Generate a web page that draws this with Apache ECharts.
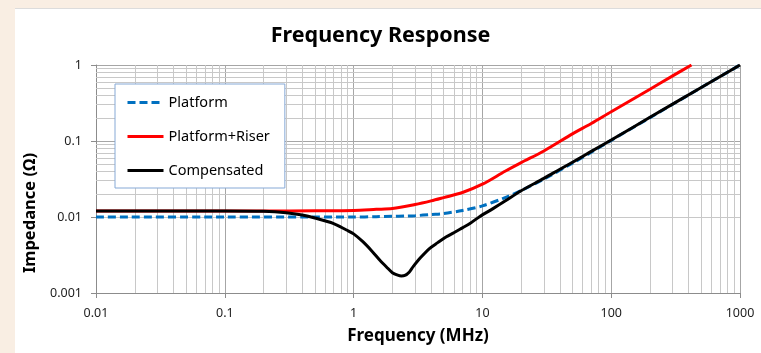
<!DOCTYPE html>
<html>
<head>
<meta charset="utf-8">
<script src="https://cdn.jsdelivr.net/npm/echarts@6/dist/echarts.min.js"></script>
<style>
  html, body { margin: 0; padding: 0; background: #f9eee3; }
  #panel { position: absolute; left: 15px; top: 8px; width: 746px; height: 345px; background: #ffffff; border-top: 1px solid #dcdcdc; }
  #chart { position: absolute; left: 0; top: 0; width: 761px; height: 353px; }
</style>
</head>
<body>
<div id="panel"></div>
<div id="chart"></div>
<script>
// ---- data ----
const titleText = 'Frequency Response';
const xAxisName = 'Frequency (MHz)';
const yAxisName = 'Impedance (\u03A9)';
const seriesNames = ['Platform', 'Platform+Riser', 'Compensated'];

const xTickLabels = ['0.01', '0.1', '1', '10', '100', '1000'];
const yTickLabels = ['0.001', '0.01', '0.1', '1'];

const platformFreq = [0.01, 0.1, 0.5, 1, 1.5, 2, 2.5, 3, 4, 5, 7, 10, 15, 20, 30, 50, 70, 100, 200, 500, 1000];
const platformZ    = [0.01, 0.01, 0.01, 0.01, 0.0101, 0.0102, 0.0103, 0.0104, 0.0108, 0.0111, 0.0122, 0.014, 0.018, 0.0223, 0.0315, 0.051, 0.071, 0.102, 0.203, 0.505, 1.0];

const riserFreq = [0.01, 0.1, 0.2, 0.5, 1, 1.5, 2, 3, 4, 5, 7, 10, 15, 20, 30, 50, 70, 100, 200, 300, 420];
const riserZ    = [0.012, 0.012, 0.012, 0.0121, 0.0122, 0.0126, 0.0129, 0.0146, 0.0163, 0.018, 0.021, 0.027, 0.040, 0.052, 0.074, 0.124, 0.17, 0.243, 0.48, 0.72, 1.0];

const compFreq = [0.01, 0.1, 0.2, 0.3, 0.4, 0.5, 0.7, 0.88, 1, 1.18, 1.4, 1.6, 1.8, 2.0, 2.2, 2.35, 2.5, 2.7, 2.9, 3.3, 3.9, 4.5, 5.25, 6, 7, 8, 9.5, 12, 15, 20, 30, 40, 57, 70, 100, 200, 500, 1000];
const compZ    = [0.012, 0.012, 0.0119, 0.0114, 0.0106, 0.0097, 0.0082, 0.00675, 0.0060, 0.00473, 0.0035, 0.0027, 0.0022, 0.00185, 0.00172, 0.00168, 0.0017, 0.00188, 0.00222, 0.0029, 0.00387, 0.0046, 0.0055, 0.0062, 0.0072, 0.0082, 0.0101, 0.0128, 0.0162, 0.0222, 0.0322, 0.0425, 0.0595, 0.073, 0.103, 0.205, 0.505, 1.0];

function pairs(xs, ys) { return xs.map((x, i) => [x, ys[i]]); }
function fmt(v) { return String(parseFloat(Number(v).toPrecision(3))); }

// minor grid positions (2..9 within each decade)
const minorX = [], minorY = [];
for (let e = -2; e < 3; e++) for (let m = 2; m <= 9; m++) minorX.push({ xAxis: m * Math.pow(10, e) });
for (let e = -3; e < 0; e++) for (let m = 2; m <= 9; m++) minorY.push({ yAxis: m * Math.pow(10, e) });

const FONT = 'Noto Sans';
const chart = echarts.init(document.getElementById('chart'), null, { renderer: 'canvas' });

function lineSeries(name, data, color, z, dashed) {
  return {
    name: name, type: 'line', data: data, z: z,
    symbol: 'circle', symbolSize: 0, showSymbol: false, smooth: 0.3, clip: true,
    lineStyle: { color: color, width: 3, type: dashed ? [8, 4] : 'solid' },
    itemStyle: { color: 'rgba(0,0,0,0)' },
    emphasis: { disabled: true }
  };
}

chart.setOption({
  animation: false,
  backgroundColor: 'transparent',
  title: {
    text: titleText, left: 'center', top: 20,
    textStyle: { fontFamily: FONT, fontSize: 21.5, fontWeight: 'bold', color: '#000' }
  },
  legend: {
    orient: 'vertical', left: 115, top: 84, z: 10,
    padding: [11, 15, 10, 11], itemGap: 19, itemWidth: 36, itemHeight: 14,
    backgroundColor: '#fff', borderColor: '#86a9d6', borderWidth: 1,
    lineStyle: { width: 3 },
    textStyle: { fontFamily: FONT, fontSize: 14.5, color: '#000' },
    data: seriesNames
  },
  grid: { left: 96, right: 21, top: 65, bottom: 60, containLabel: false },
  xAxis: {
    type: 'log', logBase: 10, min: 0.01, max: 1000, splitNumber: 5,
    name: xAxisName, nameLocation: 'middle', nameGap: 35,
    nameTextStyle: { fontFamily: FONT, fontSize: 17, fontWeight: 'bold', color: '#000' },
    axisLine: { lineStyle: { color: '#8c8c8c' } },
    axisTick: { show: true, inside: false, length: 5, lineStyle: { color: '#8c8c8c' } },
    axisLabel: { fontFamily: FONT, fontSize: 12.5, color: '#222', margin: 14,
      formatter: v => { const s = fmt(v); return xTickLabels.includes(s) ? s : ''; } },
    splitLine: { show: true, lineStyle: { color: '#a6a6a6', width: 1 } }
  },
  yAxis: {
    type: 'log', logBase: 10, min: 0.001, max: 1, splitNumber: 3,
    name: yAxisName, nameLocation: 'middle', nameGap: 56,
    nameTextStyle: { fontFamily: FONT, fontSize: 16.5, fontWeight: 'bold', color: '#000', padding: [0, 68, 0, 0] },
    axisLine: { show: true, lineStyle: { color: '#8c8c8c' } },
    axisTick: { show: true, inside: false, length: 5, lineStyle: { color: '#8c8c8c' } },
    axisLabel: { fontFamily: FONT, fontSize: 12.5, color: '#222', margin: 14,
      formatter: v => { const s = fmt(v); return yTickLabels.includes(s) ? s : ''; } },
    splitLine: { show: true, lineStyle: { color: '#a6a6a6', width: 1 } }
  },
  series: [
    {
      name: '__grid', type: 'line', data: [], z: 1, silent: true,
      markLine: {
        z: 1, silent: true, symbol: ['none', 'none'], label: { show: false },
        lineStyle: { color: '#c8c8c8', width: 1, type: 'solid' },
        emphasis: { disabled: true },
        data: minorX.concat(minorY)
      }
    },
    lineSeries(seriesNames[0], pairs(platformFreq, platformZ), '#0070c0', 3, true),
    lineSeries(seriesNames[1], pairs(riserFreq, riserZ), '#ff0000', 4, false),
    lineSeries(seriesNames[2], pairs(compFreq, compZ), '#000000', 5, false)
  ]
});
</script>
</body>
</html>
